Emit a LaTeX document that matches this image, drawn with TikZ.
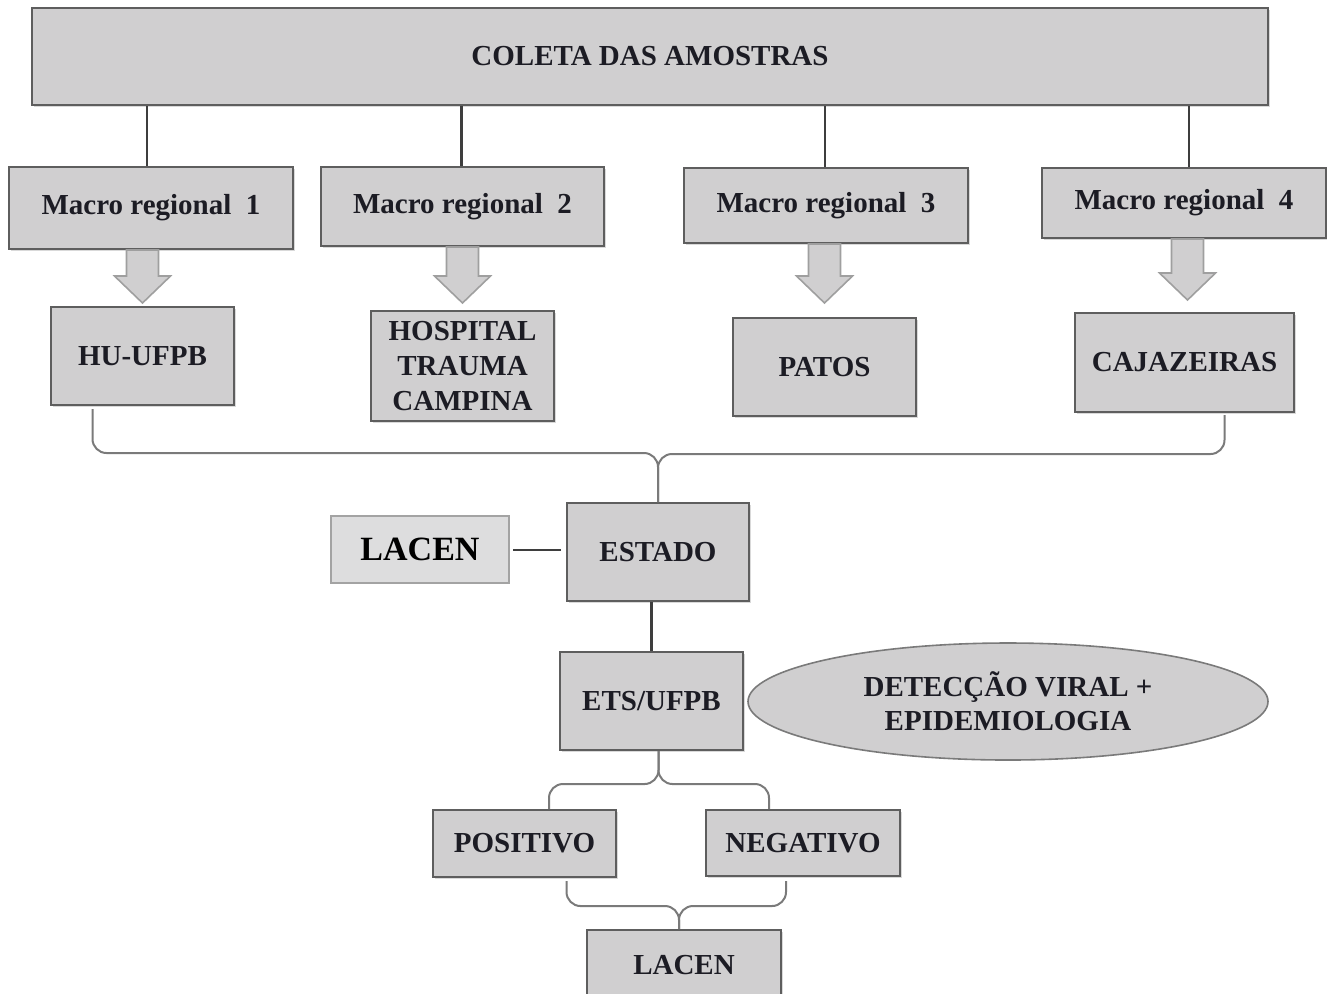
\documentclass[tikz,border=0pt]{standalone}
\usepackage{fontspec}
\setmainfont{Liberation Serif}
\usetikzlibrary{calc, shadows, shapes.geometric}

\definecolor{boxfill}{HTML}{D0CFD0}
\definecolor{boxline}{HTML}{5E5E5E}
\definecolor{lightfill}{HTML}{DDDDDE}
\definecolor{lightline}{HTML}{A3A3A3}
\definecolor{linkcol}{HTML}{3E3E3E}
\definecolor{bracecol}{HTML}{7A7A7A}
\definecolor{txtcol}{HTML}{1C1C24}

\tikzset{
  box/.style={draw=boxline, line width=1pt, fill=boxfill, inner sep=0pt,
    align=center, text=txtcol,
    font=\fontsize{14.5}{17.5}\selectfont\bfseries,
    drop shadow={shadow xshift=0.8pt, shadow yshift=-0.8pt, opacity=0.3}},
  lacenbox/.style={draw=lightline, line width=1.2pt, fill=lightfill, inner sep=0pt,
    text=black, font=\fontsize{17}{19}\selectfont\bfseries},
  oval/.style={ellipse, draw=bracecol, line width=0.8pt, fill=boxfill, inner sep=0pt,
    align=center, text=txtcol, font=\fontsize{14.5}{17}\selectfont\bfseries},
  link/.style={draw=linkcol, line width=1.4pt},
  brace/.style={draw=bracecol, line width=1pt, rounded corners=7pt},
  blockarrow/.style={draw=gray!75, line width=0.8pt, fill=boxfill},
}

\begin{document}
\begin{tikzpicture}[x=0.5pt, y=-0.5pt]
    \clip (0,0) rectangle (1327,993);
    % 顶部
    \node[box, minimum width=618pt, minimum height=48.5pt] (top) at (650,56.5) {COLETA DAS AMOSTRAS};
    % 四个宏区域
    \node[box, minimum width=142pt, minimum height=41pt] (m1) at (151,208) {Macro regional\ \ 1};
    \node[box, minimum width=141.5pt, minimum height=39.5pt] (m2) at (462.5,206.5) {Macro regional\ \ 2};
    \node[box, minimum width=142pt, minimum height=37.5pt] (m3) at (826,205.5) {Macro regional\ \ 3};
    \node[box, minimum width=142pt, minimum height=35pt] (m4) at (1184,203) {Macro regional\ \ 4};
    \foreach \m/\dx in {m1/-4, m2/-1, m3/-1, m4/5}
      \draw[link] ($(top.south -| \m.north)+(\dx,0)$) -- ($(\m.north)+(\dx,0)$);
    % 医院
    \node[box, minimum width=91.5pt, minimum height=49pt] (hu) at (142.5,356) {HU-UFPB};
    \node[box, minimum width=91.5pt, minimum height=55pt] (hc) at (462.5,366) {HOSPITAL\\TRAUMA\\CAMPINA};
    \node[box, minimum width=91.5pt, minimum height=49pt] (pa) at (824.5,367) {PATOS};
    \node[box, minimum width=109.5pt, minimum height=49.5pt] (ca) at (1184.5,362.5) {CAJAZEIRAS};
    % 粗箭头
    \foreach \m/\h/\dx/\ty in {m1/hu/0/303, m2/hc/0/303, m3/pa/0/303, m4/ca/3/300} {
      \coordinate (tip) at ($(\h.north |- 0,\ty)+(\dx,0)$);
      \filldraw[blockarrow] (tip) -- ++(-28,-27) -- ++(12,0) -- ($(\m.south -| tip)+(-16,0)$)
        -- ++(32,0) -- ($(tip)+(16,-27)$) -- ++(12,0) -- cycle;
    }
    % 州
    \node[box, minimum width=91pt, minimum height=49pt] (estado) at (658,552) {ESTADO};
    \node[lacenbox, minimum width=89pt, minimum height=33.5pt] (lacenA) at (420,549.5) {LACEN};
    \draw[link, line width=1pt, shorten <=1.5pt, shorten >=2.5pt] (lacenA.east) -- (lacenA.east -| estado.west);
    % 大括号 1
    \draw[brace] (estado.north) |- ($(hu.south)+(-50,47)$) -- ($(hu.south)+(-50,3)$);
    \draw[brace] (estado.north) |- ($(ca.south)+(40,41)$) -- ($(ca.south)+(40,2)$);
    % 检测
    \node[box, minimum width=91.5pt, minimum height=49pt] (ets) at (651.5,701) {ETS/UFPB};
    \draw[link] (estado.south -| ets.north) -- (ets.north);
    \node[oval, minimum width=260pt, minimum height=58.5pt] (det) at (1008,701.5) {DETECÇÃO VIRAL +\\EPIDEMIOLOGIA};
    % 结果
    \node[box, minimum width=91.5pt, minimum height=33.5pt] (pos) at (524.5,843.5) {POSITIVO};
    \node[box, minimum width=97pt, minimum height=33pt] (neg) at (803,843) {NEGATIVO};
    \draw[brace] ($(ets.south)+(7,0)$) |- ($(pos.north)+(24.5,-25)$) -- ($(pos.north)+(24.5,0)$);
    \draw[brace] ($(ets.south)+(7,0)$) |- ($(neg.north)+(-34,-25)$) -- ($(neg.north)+(-34,0)$);
    % 最后
    \node[box, minimum width=97pt, minimum height=35pt] (lacenB) at (684,965) {LACEN};
    \draw[brace] ($(lacenB.north)+(-5,0)$) |- ($(pos.south)+(42,28)$) -- ($(pos.south)+(42,3)$);
    \draw[brace] ($(lacenB.north)+(-5,0)$) |- ($(neg.south)+(-17,29)$) -- ($(neg.south)+(-17,4)$);
\end{tikzpicture}
\end{document}
